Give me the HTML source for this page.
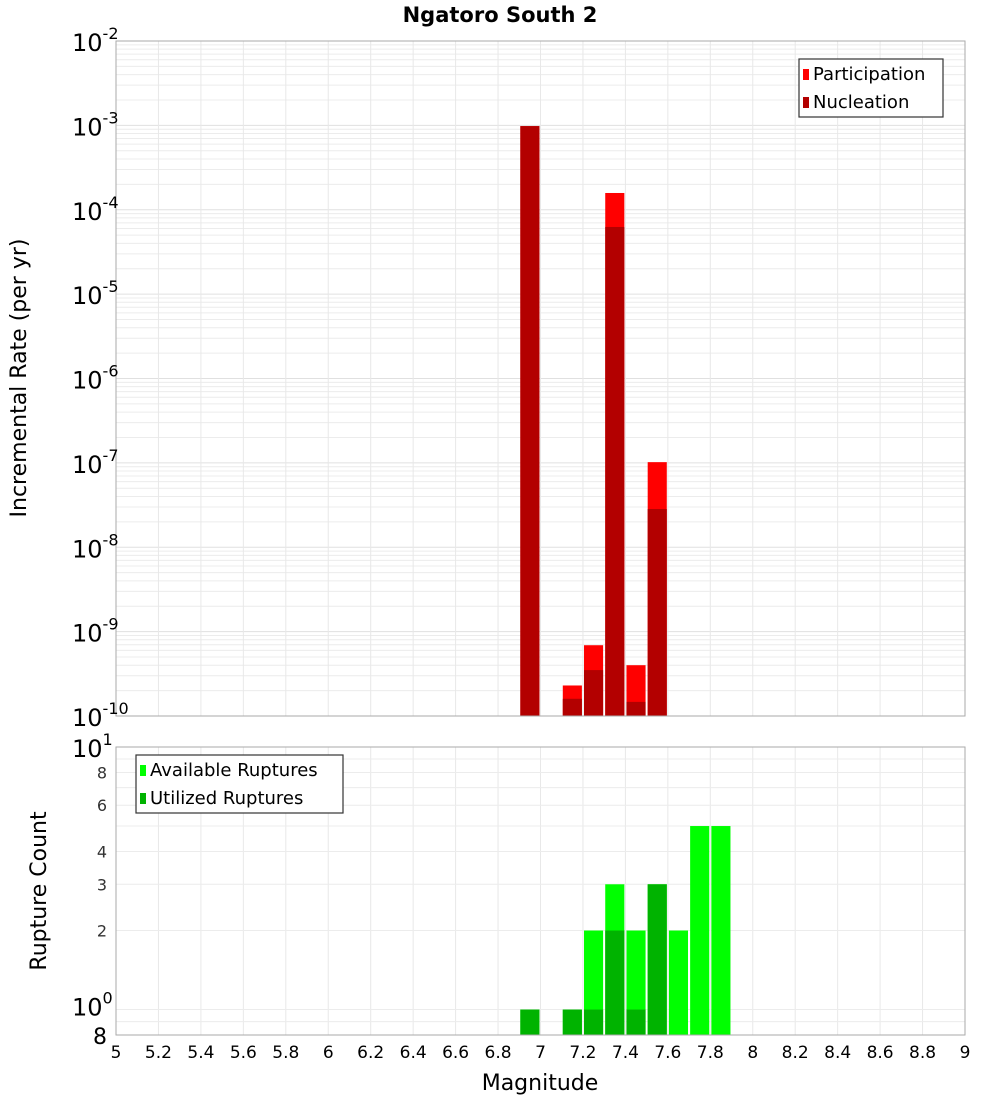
<!DOCTYPE html>
<html><head><meta charset="utf-8"><style>
body{margin:0;background:#fff;font-family:"Liberation Sans","DejaVu Sans",sans-serif;}
svg text{font-family:"DejaVu Sans","Liberation Sans",sans-serif;}
</style></head><body>
<svg id="chart" width="1000" height="1100" xmlns="http://www.w3.org/2000/svg">
<text x="500" y="22" text-anchor="middle" font-size="21" font-weight="bold">Ngatoro South 2</text>
<g id="topPlot"></g><g id="botPlot"></g>
<text transform="translate(26,378) rotate(-90)" text-anchor="middle" font-size="22">Incremental Rate (per yr)</text>
<text transform="translate(46,891) rotate(-90)" text-anchor="middle" font-size="22">Rupture Count</text>
<text x="540" y="1090" text-anchor="middle" font-size="22">Magnitude</text>
</svg>
<script>
const mags=[6.95,7.15,7.25,7.35,7.45,7.55];
const participation=[9.8e-4,2.3e-10,6.9e-10,1.58e-4,4.0e-10,1.02e-7];
const nucleation=[9.8e-4,1.6e-10,3.5e-10,6.25e-5,1.47e-10,2.84e-8];
const countMags=[6.95,7.15,7.25,7.35,7.45,7.55,7.65,7.75,7.85];
const available=[1,1,2,3,2,3,2,5,5];
const utilized=[1,1,1,2,1,3,0,0,0];
const xTicks=[5,5.2,5.4,5.6,5.8,6,6.2,6.4,6.6,6.8,7,7.2,7.4,7.6,7.8,8,8.2,8.4,8.6,8.8,9];
const topExps=[-2,-3,-4,-5,-6,-7,-8,-9,-10];
const botTicks=[8,6,4,3,2];

const NS='http://www.w3.org/2000/svg';
const L=116,R=965;
const X=m=>L+(m-5)/4*(R-L);
const T0=41,T1=716;
const YT=v=>T0+(-2-Math.log10(v))/8*(T1-T0);
const B0=747,B1=1035;
const YB=v=>B0+(1-Math.log10(v))/(1-Math.log10(0.8))*(B1-B0);
function mk(p,tag,a,txt){const e=document.createElementNS(NS,tag);for(const k in a)e.setAttribute(k,a[k]);if(txt!==undefined)e.textContent=txt;p.appendChild(e);return e;}
const topG=document.getElementById('topPlot'),botG=document.getElementById('botPlot');

for(let e=-10;e<-2;e++)for(let k=1;k<10;k++){const y=YT(k*Math.pow(10,e));
 const g=mk(topG,'line',{x1:L,x2:R,y1:y,y2:y,stroke:k==1?'#e0e0e0':'#ececec','stroke-width':1});
 
 }
for(const m of xTicks){
 const g=mk(topG,'line',{x1:X(m),x2:X(m),y1:T0,y2:T1,stroke:'#e8e8e8'});
 
 
 const g2=mk(botG,'line',{x1:X(m),x2:X(m),y1:B0,y2:B1,stroke:'#e8e8e8'});
 
 }
for(const v of [0.8,0.9,1,2,3,4,5,6,7,8,9,10]){const y=YB(v);
 const g=mk(botG,'line',{x1:L,x2:R,y1:y,y2:y,stroke:'#ececec'});
 
 }

const bw=(X(5.09)-X(5));
mags.forEach((m,i)=>{
 const x=X(m)-bw/2;
 const p=mk(topG,'rect',{x:x,y:YT(participation[i]),width:bw,height:T1-YT(participation[i]),fill:'#ff0000'});
 
 
 const n=mk(topG,'rect',{x:x,y:YT(nucleation[i]),width:bw,height:T1-YT(nucleation[i]),fill:'#b30000'});
 
 
});
countMags.forEach((m,i)=>{
 const x=X(m)-bw/2;
 if(available[i]>0){const a=mk(botG,'rect',{x:x,y:YB(available[i]),width:bw,height:B1-YB(available[i]),fill:'#00ff00'});
 
 }
 if(utilized[i]>0){const u=mk(botG,'rect',{x:x,y:YB(utilized[i]),width:bw,height:B1-YB(utilized[i]),fill:'#00b300'});
 
 }
});
let f=mk(topG,'rect',{x:L,y:T0,width:R-L,height:T1-T0,fill:'none',stroke:'#aaa'});


f=mk(botG,'rect',{x:L,y:B0,width:R-L,height:B1-B0,fill:'none',stroke:'#aaa'});



topExps.forEach(e=>{const y=YT(Math.pow(10,e));
 const t=mk(topG,'text',{x:72,y:y+10,'font-size':24});
 
 
 mk(t,'tspan',{},'10');mk(t,'tspan',{dy:-12,'font-size':16},String(e));});
let t=mk(botG,'text',{x:72,y:YB(10)+10,'font-size':24});


mk(t,'tspan',{},'10');mk(t,'tspan',{dy:-12,'font-size':16},'1');
t=mk(botG,'text',{x:72,y:YB(1)+6,'font-size':24});


mk(t,'tspan',{},'10');mk(t,'tspan',{dy:-12,'font-size':16},'0');
t=mk(botG,'text',{x:107,y:B1+9,'font-size':22,'text-anchor':'end'},'8');


botTicks.forEach(v=>{const tt=mk(botG,'text',{x:107,y:YB(v)+6,'font-size':16,'text-anchor':'end',fill:'#333'},String(v));
 
 });
xTicks.forEach(m=>{const tt=mk(botG,'text',{x:X(m),y:1058,'font-size':17,'text-anchor':'middle'},String(m));
 
 });

function legend(g,x,y,w,items,name){
 const r=mk(g,'rect',{x:x,y:y,width:w,height:58,fill:'#fff',stroke:'#333','stroke-width':1.2});
 
 
 items.forEach((it,i)=>{const sw=mk(g,'rect',{x:x+4,y:y+10+i*28,width:6,height:11,fill:it[1]});
  
  
  const tx=mk(g,'text',{x:x+14,y:y+21+i*28,'font-size':18},it[0]);
  
  });
}
legend(topG,799,59,144,[['Participation','#ff0000'],['Nucleation','#b30000']],'top-legend');
legend(botG,136,755,207,[['Available Ruptures','#00ff00'],['Utilized Ruptures','#00b300']],'bottom-legend');
</script>
</body></html>
